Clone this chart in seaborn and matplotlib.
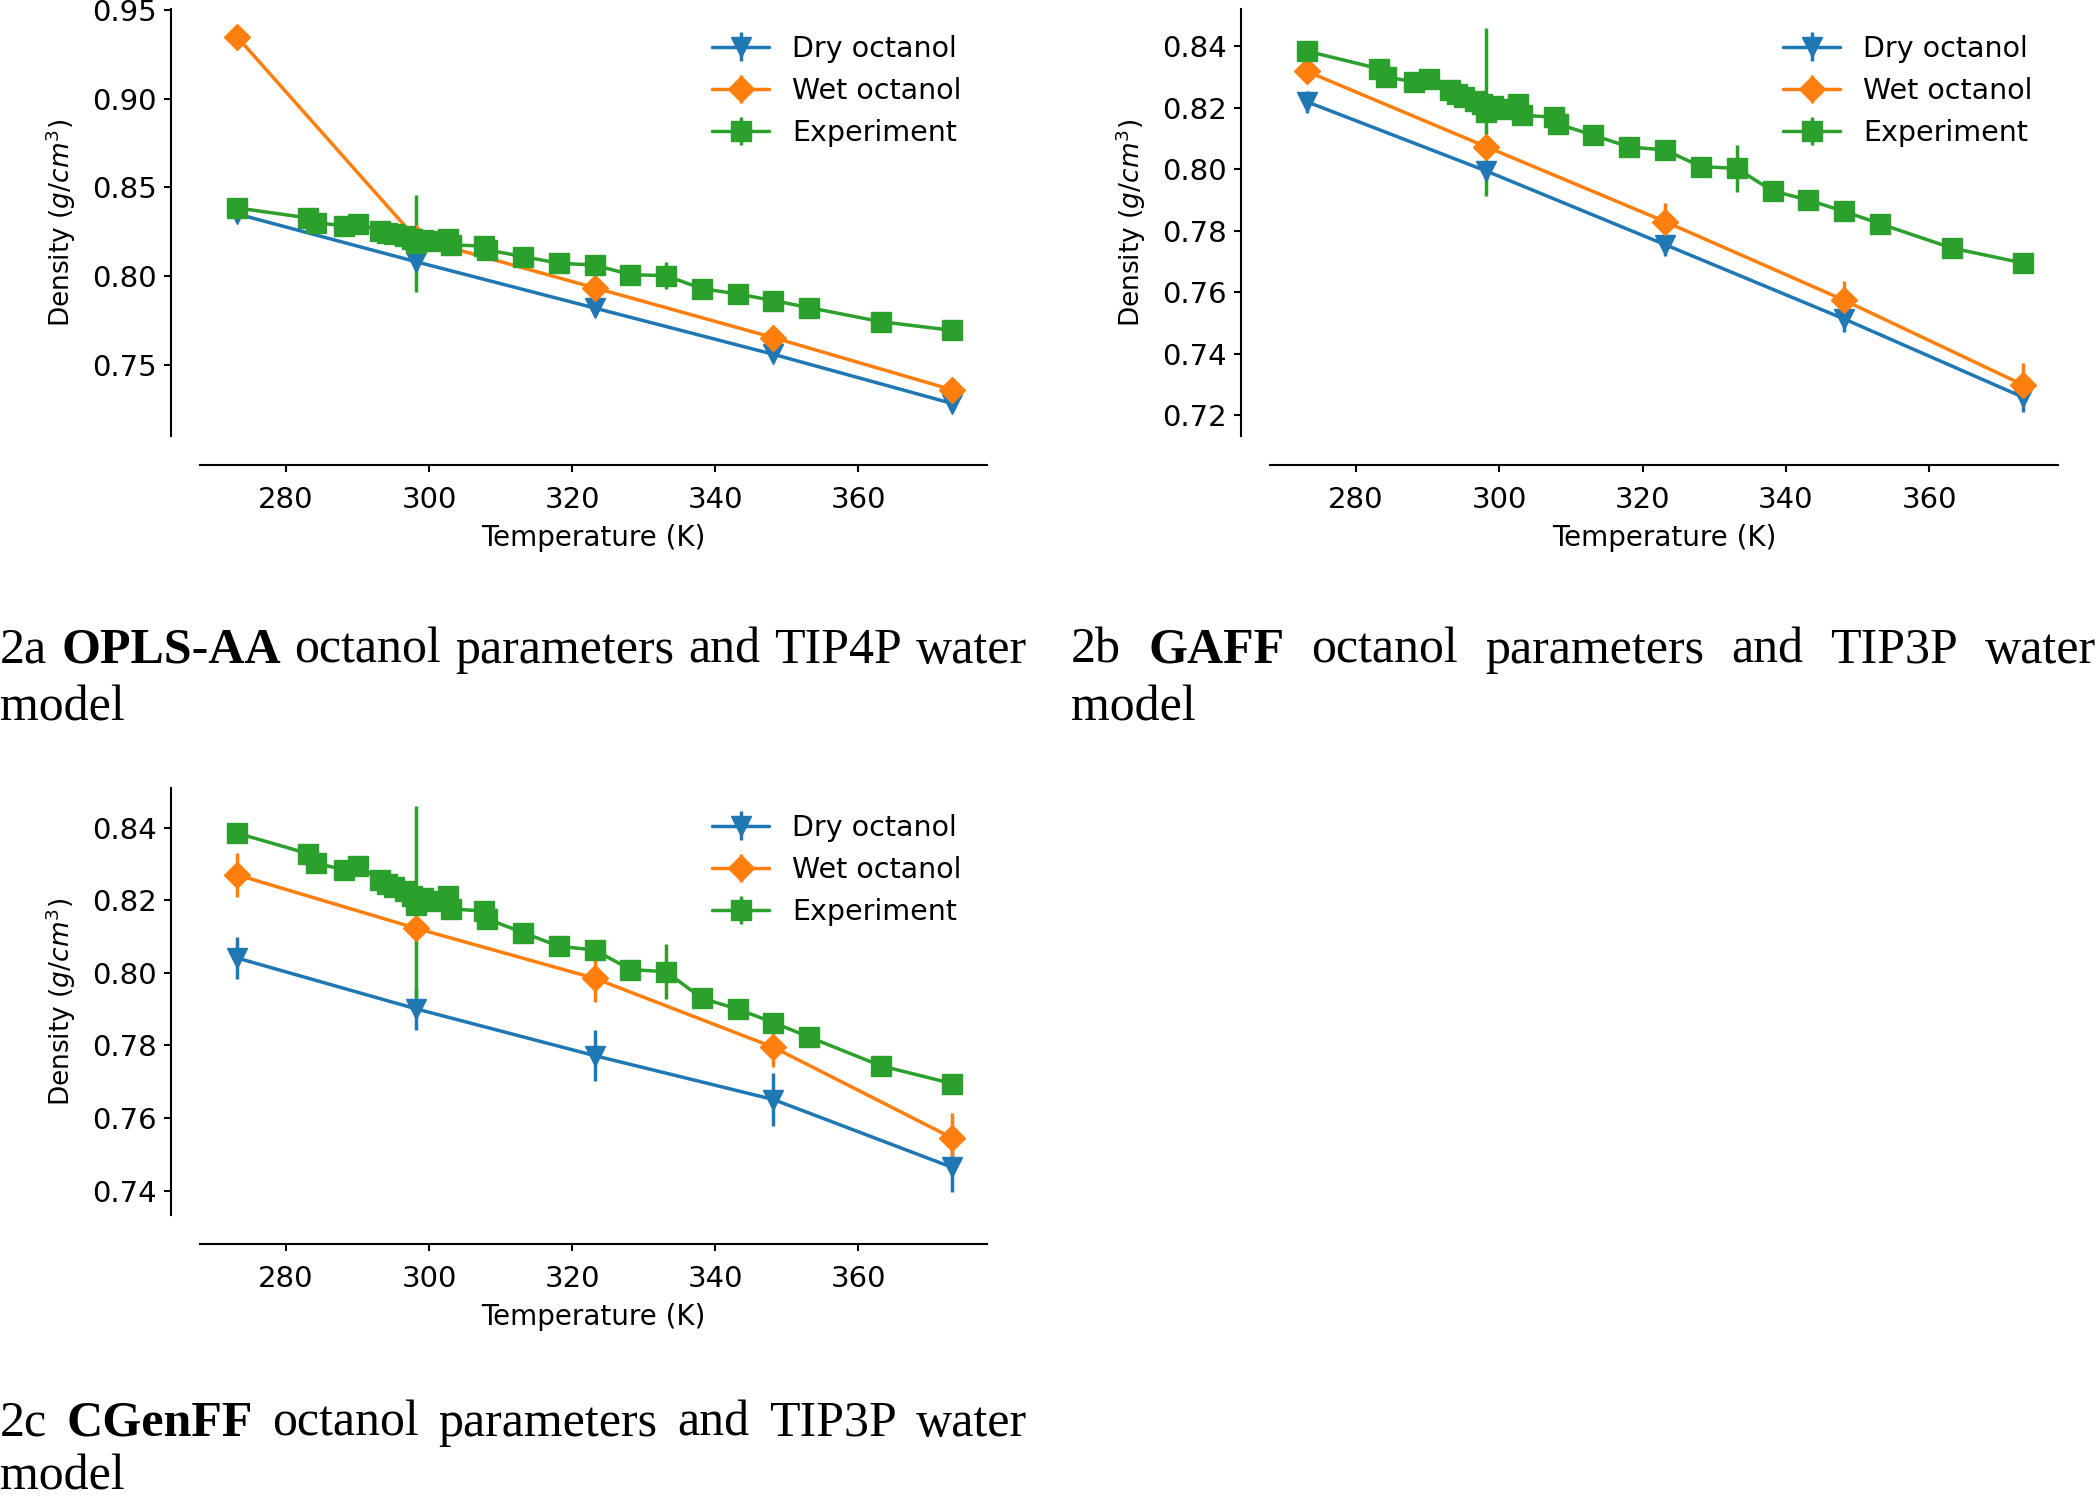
import numpy as np
import matplotlib
matplotlib.use('Agg')
import matplotlib.pyplot as plt
import seaborn as sns

# simulated temperatures (K)
sim_T = [273.15, 298.15, 323.15, 348.15, 373.15]

# 2a OPLS-AA / TIP4P
dry_a = [0.8351, 0.8082, 0.7821, 0.7560, 0.7283]
dry_a_err = [0.0030, 0.0045, 0.0030, 0.0030, 0.0035]
wet_a = [0.9350, 0.8215, 0.7935, 0.7654, 0.7360]
wet_a_err = [0.0020, 0.0020, 0.0030, 0.0030, 0.0030]

# 2b GAFF / TIP3P
dry_b = [0.8220, 0.7995, 0.7755, 0.7513, 0.7258]
dry_b_err = [0.0035, 0.0030, 0.0037, 0.0044, 0.0047]
wet_b = [0.8319, 0.8074, 0.7830, 0.7574, 0.7298]
wet_b_err = [0.0035, 0.0020, 0.0060, 0.0064, 0.0073]

# 2c CGenFF / TIP3P
dry_c = [0.8041, 0.7901, 0.7772, 0.7651, 0.7464]
dry_c_err = [0.0059, 0.0059, 0.0071, 0.0074, 0.0069]
wet_c = [0.8270, 0.8123, 0.7985, 0.7795, 0.7545]
wet_c_err = [0.0061, 0.0030, 0.0066, 0.0054, 0.0069]

# experimental density of octanol
exp_T = [273.15, 283.15, 284.15, 288.15, 290.15, 293.15, 294.15, 295.15, 296.65,
         297.65, 298.15, 299.15, 300.65, 302.65, 303.15, 307.65, 308.15, 313.15,
         318.15, 323.15, 328.15, 333.15, 338.15, 343.15, 348.15, 353.15, 363.15, 373.15]
exp_rho = [0.8385, 0.8328, 0.8302, 0.8284, 0.8294, 0.8257, 0.8244, 0.8236, 0.8224,
           0.8212, 0.8186, 0.8206, 0.8198, 0.8212, 0.8176, 0.8170, 0.8148, 0.8111,
           0.8073, 0.8063, 0.8009, 0.8003, 0.7930, 0.7900, 0.7863, 0.7823, 0.7744, 0.7695]
exp_err = [0, 0, 0, 0, 0, 0, 0, 0, 0,
           0, 0.0273, 0, 0, 0, 0, 0, 0, 0,
           0, 0, 0, 0.0076, 0, 0, 0, 0, 0, 0.0012]

xticks = [280, 300, 320, 340, 360]
series_labels = ['Dry octanol', 'Wet octanol', 'Experiment']

# captions: (word, bold)
cap_a = [('2a', False), ('OPLS-AA', True), ('octanol', False), ('parameters', False),
         ('and', False), ('TIP4P', False), ('water', False)]
cap_b = [('2b', False), ('GAFF', True), ('octanol', False), ('parameters', False),
         ('and', False), ('TIP3P', False), ('water', False)]
cap_c = [('2c', False), ('CGenFF', True), ('octanol', False), ('parameters', False),
         ('and', False), ('TIP3P', False), ('water', False)]

sns.set_style('ticks', {'axes.edgecolor': 'black', 'text.color': 'black',
                        'axes.labelcolor': 'black', 'xtick.color': 'black',
                        'ytick.color': 'black'})
plt.rcParams['font.family'] = ['DejaVu Sans']
pal = sns.color_palette('tab10')

W, H = 2100, 1502
fig = plt.figure(figsize=(W / 100, H / 100), dpi=100)


def px_axes(left, top, right, bottom):
    return [left / W, 1 - bottom / H, (right - left) / W, (bottom - top) / H]


panels = [
    (px_axes(200, 9, 987, 436), dry_a, dry_a_err, wet_a, wet_a_err, (0.710, 0.9505)),
    (px_axes(1270, 9, 2058, 436), dry_b, dry_b_err, wet_b, wet_b_err, (0.7132, 0.8522)),
    (px_axes(200, 788, 987, 1215), dry_c, dry_c_err, wet_c, wet_c_err, (0.7333, 0.8509)),
]

lw = 2.5
ms = 14
for pos, dry, dry_err, wet, wet_err, ylim in panels:
    ax = fig.add_axes(pos)
    ax.errorbar(sim_T, dry, yerr=dry_err, marker='v', color=pal[0], lw=lw,
                elinewidth=lw, ms=ms, label=series_labels[0])
    ax.errorbar(sim_T, wet, yerr=wet_err, marker='D', color=pal[1], lw=lw,
                elinewidth=lw, ms=ms - 1, label=series_labels[1])
    ax.errorbar(exp_T, exp_rho, yerr=exp_err, marker='s', color=pal[2], lw=lw,
                elinewidth=lw, ms=ms, label=series_labels[2])
    ax.set_xlim(268, 378)
    ax.set_ylim(*ylim)
    ax.set_xticks(xticks)
    ax.set_xlabel('Temperature (K)', fontsize=20, labelpad=7)
    ax.set_ylabel('Density ($g/cm^3$)', fontsize=19, labelpad=10)
    ax.tick_params(labelsize=21, length=5, width=1.5)
    ax.tick_params(axis='x', pad=10)
    ax.tick_params(axis='y', pad=5)
    for s in ax.spines.values():
        s.set_linewidth(1.5)
    sns.despine(ax=ax, offset=21)
    ax.legend(loc='upper right', frameon=False, fontsize=20.5)


def caption(words, x0, x1, ybase):
    texts = []
    for w, bold in words:
        t = fig.text(0, 1 - ybase / H, w, family='Liberation Serif', fontsize=36,
                     fontweight='bold' if bold else 'normal', va='baseline', ha='left')
        texts.append(t)
    r = fig.canvas.get_renderer()
    widths = [t.get_window_extent(r).width for t in texts]
    gap = (x1 - x0 - sum(widths)) / (len(texts) - 1)
    x = x0
    for t, w in zip(texts, widths):
        t.set_x(x / W)
        x += w + gap


caption(cap_a, 0, 1027, 663)
fig.text(0, 1 - 721 / H, 'model', family='Liberation Serif', fontsize=36, va='baseline')
caption(cap_b, 1071, 2096, 663)
fig.text(1071 / W, 1 - 721 / H, 'model', family='Liberation Serif', fontsize=36, va='baseline')
caption(cap_c, 0, 1027, 1436)
fig.text(0, 1 - 1490 / H, 'model', family='Liberation Serif', fontsize=36, va='baseline')

fig.savefig('out.png', dpi=100)
